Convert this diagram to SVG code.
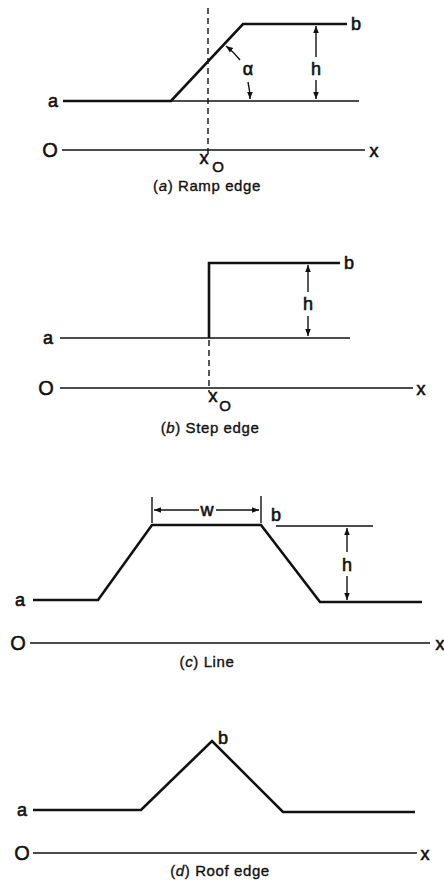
<svg xmlns="http://www.w3.org/2000/svg" width="444" height="883" viewBox="0 0 444 883">
<style>
.prof{fill:none;stroke:#111;stroke-width:2.6;stroke-linejoin:miter}
.thin{fill:none;stroke:#111;stroke-width:1.5}
.dash{fill:none;stroke:#111;stroke-width:1.4;stroke-dasharray:6,4}
.dim{fill:none;stroke:#111;stroke-width:1.4}
.lbl{font-family:"Liberation Sans",Arial,sans-serif;font-size:18px;fill:#111;stroke:#111;stroke-width:0.6;text-anchor:middle}
.big{font-family:"Liberation Sans",Arial,sans-serif;font-size:20px;fill:#111;stroke:#111;stroke-width:0.5;text-anchor:middle}
.sub{font-family:"Liberation Sans",Arial,sans-serif;font-size:15px;fill:#111;stroke:#111;stroke-width:0.5;text-anchor:middle}
.cap{font-family:"Liberation Sans",Arial,sans-serif;font-size:15px;fill:#111;stroke:#111;stroke-width:0.35;letter-spacing:0.6px;text-anchor:middle}
</style>
<defs>
<marker id="ah" viewBox="0 0 10 10" refX="10" refY="5" markerWidth="7" markerHeight="7" orient="auto" markerUnits="userSpaceOnUse">
<path d="M0,1 L10,5 L0,9 Z" fill="#111"/>
</marker>
</defs>
<rect width="444" height="883" fill="#fff"/>

<g id="panel-a">
<line class="thin" x1="62" y1="150" x2="365" y2="150"/>
<line class="thin" x1="171" y1="101" x2="359" y2="101"/>
<polyline class="prof" points="63,101 171,101 243,24 347,24"/>
<line class="dash" x1="208" y1="8" x2="208" y2="154"/>
<line class="dim" x1="316" y1="57" x2="316" y2="26" marker-end="url(#ah)"/>
<line class="dim" x1="316" y1="80" x2="316" y2="99" marker-end="url(#ah)"/>
<path class="dim" d="M 240,60 A 79 79 0 0 0 226,46" marker-end="url(#ah)"/>
<path class="dim" d="M 248,82 A 79 79 0 0 1 250,99" marker-end="url(#ah)"/>
<text class="lbl" x="53" y="107">a</text>
<text class="lbl" x="356" y="30">b</text>
<text class="lbl" x="316" y="75">h</text>
<text class="lbl" x="248" y="75">α</text>
<text class="big" x="50" y="157">O</text>
<text class="lbl" x="374" y="157">x</text>
<text class="lbl" x="204" y="164">x</text>
<text class="sub" x="218" y="172">O</text>
<text class="cap" x="207" y="191">(<tspan font-style="italic">a</tspan>)  Ramp edge</text>
</g>

<g id="panel-b">
<line class="thin" x1="60" y1="388" x2="413" y2="388"/>
<line class="thin" x1="60" y1="338" x2="350" y2="338"/>
<polyline class="prof" points="209,338 209,263 340,263"/>
<line class="dash" x1="209" y1="340" x2="209" y2="392"/>
<line class="dim" x1="308" y1="292" x2="308" y2="265" marker-end="url(#ah)"/>
<line class="dim" x1="308" y1="316" x2="308" y2="336" marker-end="url(#ah)"/>
<text class="lbl" x="48" y="344">a</text>
<text class="lbl" x="349" y="269">b</text>
<text class="lbl" x="308" y="310">h</text>
<text class="big" x="46" y="395">O</text>
<text class="lbl" x="421" y="395">x</text>
<text class="lbl" x="213" y="402">x</text>
<text class="sub" x="225" y="411">O</text>
<text class="cap" x="210" y="433">(<tspan font-style="italic">b</tspan>)  Step edge</text>
</g>

<g id="panel-c">
<line class="thin" x1="30" y1="643" x2="430" y2="643"/>
<polyline class="prof" points="33,600 98,600 152,525 261,525 320,602 422,602"/>
<line class="thin" x1="276" y1="526" x2="373" y2="526"/>
<line class="dim" x1="152" y1="497" x2="152" y2="523"/>
<line class="dim" x1="261" y1="496" x2="261" y2="523"/>
<line class="dim" x1="199" y1="510" x2="154" y2="510" marker-end="url(#ah)"/>
<line class="dim" x1="216" y1="510" x2="259" y2="510" marker-end="url(#ah)"/>
<line class="dim" x1="347" y1="552" x2="347" y2="528" marker-end="url(#ah)"/>
<line class="dim" x1="347" y1="576" x2="347" y2="600" marker-end="url(#ah)"/>
<text class="lbl" x="20" y="606">a</text>
<text class="lbl" x="276" y="521">b</text>
<text class="lbl" x="207" y="516">w</text>
<text class="lbl" x="347" y="571">h</text>
<text class="big" x="18" y="650">O</text>
<text class="lbl" x="440" y="650">x</text>
<text class="cap" x="207" y="667">(<tspan font-style="italic">c</tspan>)  Line</text>
</g>

<g id="panel-d">
<line class="thin" x1="33" y1="853" x2="417" y2="853"/>
<polyline class="prof" points="33,810 141,810 212,741 283,812 415,812"/>
<text class="lbl" x="22" y="816">a</text>
<text class="lbl" x="223" y="744">b</text>
<text class="big" x="22" y="860">O</text>
<text class="lbl" x="425" y="860">x</text>
<text class="cap" x="220" y="876">(<tspan font-style="italic">d</tspan>)  Roof edge</text>
</g>
</svg>
